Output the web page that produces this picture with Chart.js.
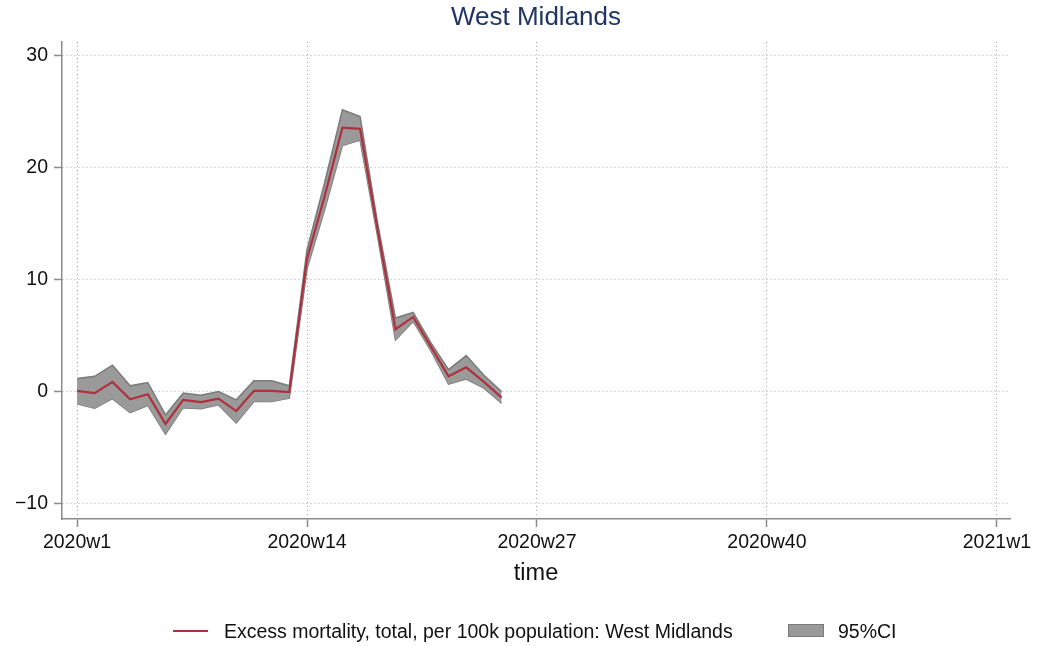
<!DOCTYPE html>
<html>
<head>
<meta charset="utf-8">
<script src="https://cdn.jsdelivr.net/npm/chart.js@4.4.1/dist/chart.umd.min.js"></script>
<style>
    html, body { margin: 0; padding: 0; background: #fff; }
    #wrap { position: relative; width: 1038px; height: 646px; font-family: "Liberation Sans", Arial, sans-serif; }
    #chart { position: absolute; left: 0; top: 0; }
    .lg-line { position: absolute; left: 173px; top: 630px; width: 35px; height: 2px; background: #b0303c; }
    .lg-box  { position: absolute; left: 788px; top: 624px; width: 34px; height: 11px; background: #9a9a9a; border: 1px solid #7a7a7a; }
    .lg-text { position: absolute; top: 620px; font-size: 19.5px; color: #111; line-height: 22px; white-space: nowrap; }
</style>
</head>
<body>
<div id="wrap">
    <canvas id="chart" width="1038" height="646"></canvas>
    <div class="lg-line"></div>
    <div class="lg-text" style="left:224px;">Excess mortality, total, per 100k population: West Midlands</div>
    <div class="lg-box"></div>
    <div class="lg-text" style="left:838px;">95%CI</div>
</div>
<script>
// weeks of 2020 (1 = 2020w1, 53 = 2021w1)
const WEEKS = [1, 2, 3, 4, 5, 6, 7, 8, 9, 10, 11, 12, 13, 14, 15, 16, 17, 18, 19, 20, 21, 22, 23, 24, 25];
const EXCESS = [0.1, -0.1, 0.9, -0.65, -0.2, -2.85, -0.7, -0.9, -0.6, -1.7, 0.1, 0.1, 0.0, 11.9, 17.5, 23.6, 23.5, 14.4, 5.6, 6.7, 4.05, 1.4, 2.2, 0.9, -0.5];
const CI_UPPER = [1.2, 1.4, 2.4, 0.55, 0.85, -2.05, -0.1, -0.3, 0.05, -0.7, 1.0, 1.0, 0.55, 12.7, 18.7, 25.2, 24.6, 15.0, 6.6, 7.1, 4.4, 2.0, 3.25, 1.5, 0.05];
const CI_LOWER = [-1.05, -1.45, -0.6, -1.85, -1.2, -3.75, -1.4, -1.5, -1.15, -2.75, -0.85, -0.85, -0.55, 11.0, 16.3, 22.0, 22.5, 13.8, 4.65, 6.3, 3.7, 0.7, 1.15, 0.35, -1.0];

const X_TICKS = [1, 14, 27, 40, 53];
const X_LABELS = ['2020w1', '2020w14', '2020w27', '2020w40', '2021w1'];
const Y_TICKS = [-10, 0, 10, 20, 30];
const Y_LABELS = ['\u221210', '0', '10', '20', '30'];

const FONT = '"Liberation Sans", Arial, sans-serif';
const AXIS_COLOR = '#8a8a8a';
const GRID_COLOR = '#aeaeae';

const pts = arr => WEEKS.map((w, i) => ({ x: w, y: arr[i] }));

new Chart(document.getElementById('chart'), {
    type: 'line',
    data: {
        datasets: [
            {
                label: 'upper',
                data: pts(CI_UPPER),
                borderColor: '#7a7a7a',
                borderWidth: 1.5,
                backgroundColor: '#9a9a9a',
                pointRadius: 0,
                fill: '+1',
                tension: 0,
                order: 2,
            },
            {
                label: 'lower',
                data: pts(CI_LOWER),
                borderColor: '#7a7a7a',
                borderWidth: 1.5,
                pointRadius: 0,
                fill: false,
                tension: 0,
                order: 2,
            },
            {
                label: 'Excess mortality, total, per 100k population: West Midlands',
                data: pts(EXCESS),
                borderColor: '#b0303c',
                borderWidth: 2.2,
                pointRadius: 0,
                fill: false,
                tension: 0,
                order: 1,
            }
        ]
    },
    options: {
        responsive: false,
        animation: false,
        layout: { padding: { left: 0, right: 28, top: 0, bottom: 0 } },
        plugins: {
            legend: { display: false },
            tooltip: { enabled: false },
            title: {
                display: true,
                fullSize: false,
                text: 'West Midlands',
                color: '#1f3564',
                font: { family: FONT, size: 26, weight: 'normal', lineHeight: 1.2 },
                padding: { top: 2, bottom: 8.8 },
            }
        },
        scales: {
            x: {
                type: 'linear',
                min: 0.15,
                max: 53.74,
                afterBuildTicks: s => { s.ticks = X_TICKS.map(v => ({ value: v })); },
                afterFit: s => { s.height = 127; },
                ticks: {
                    autoSkip: false,
                    maxRotation: 0,
                    padding: 4,
                    color: '#111',
                    font: { family: FONT, size: 19.5 },
                    callback: (v) => X_LABELS[X_TICKS.indexOf(v)],
                },
                grid: { color: GRID_COLOR, lineWidth: 1, tickLength: 8, tickColor: AXIS_COLOR, tickWidth: 1.5, tickBorderDash: [] },
                border: { color: AXIS_COLOR, width: 1.5, dash: [1, 3] },
                title: {
                    display: true,
                    text: 'time',
                    color: '#111',
                    font: { family: FONT, size: 23.5 },
                    padding: { top: 0, bottom: 58 },
                }
            },
            y: {
                min: -11.34,
                max: 31.25,
                afterBuildTicks: s => { s.ticks = Y_TICKS.map(v => ({ value: v })); },
                afterFit: s => { s.width = 62; },
                ticks: {
                    padding: 6,
                    color: '#111',
                    font: { family: FONT, size: 19.5 },
                    callback: (v) => Y_LABELS[Y_TICKS.indexOf(v)],
                },
                grid: { color: GRID_COLOR, lineWidth: 1, tickLength: 8, tickColor: AXIS_COLOR, tickWidth: 1.5, tickBorderDash: [] },
                border: { color: AXIS_COLOR, width: 1.5, dash: [1, 3] },
            }
        }
    }
});
</script>
</body>
</html>
